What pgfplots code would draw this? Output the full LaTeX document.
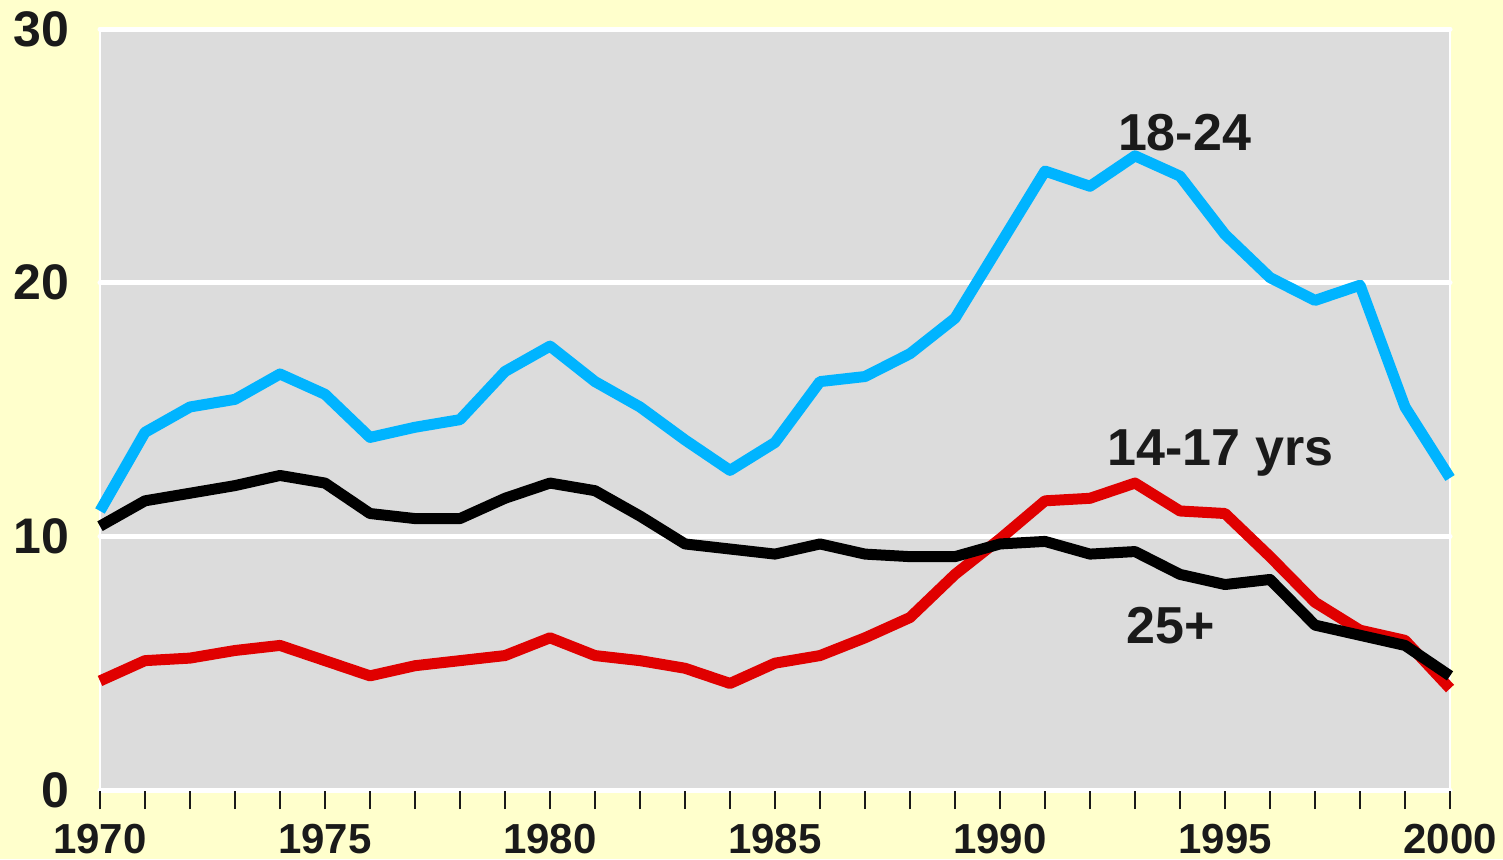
\documentclass[border=0pt]{standalone}
\usepackage{pgfplots}
\pgfplotsset{compat=1.18}
\usepackage{fontspec}
\setmainfont{Liberation Sans}
\definecolor{bgyellow}{HTML}{FFFFCC}
\definecolor{plotgray}{HTML}{DCDCDC}
\definecolor{skyblue}{HTML}{00B4FF}
\definecolor{redline}{HTML}{E00000}
\definecolor{txt}{HTML}{1A1A1A}
\begin{document}
\begin{tikzpicture}
\fill[bgyellow] (-50pt,-34.5pt) rectangle (701.5pt,395pt);
\useasboundingbox (-50pt,-34.5pt) rectangle (701.5pt,395pt);
\begin{axis}[
  at={(0,0)}, anchor=south west,
  scale only axis, width=675pt, height=380.5pt,
  xmin=1970, xmax=2000, ymin=0, ymax=30,
  axis background/.style={fill=plotgray},
  axis line style={draw=white, line width=1pt},
  xtick={1970,1975,...,2000},
  minor xtick={1970,...,2000},
  xtick pos=bottom,
  ytick={0,10,20,30},
  ymajorgrids,
  major grid style={draw=white, line width=2.5pt, line cap=round},
  tick align=outside,
  major tick length=9.5pt, minor tick length=9.5pt,
  x tick style={draw=txt, line width=1.1pt},
  y tick style={draw=none},
  font=\bfseries\fontsize{26}{30}\selectfont,
  /pgf/number format/assume math mode=true,
  /pgf/number format/1000 sep={},
  xticklabel style={anchor=north, inner sep=0pt, yshift=-7.5pt, text=txt, font=\bfseries\fontsize{21}{24}\selectfont},
  yticklabel style={anchor=east, inner sep=0pt, xshift=-5.5pt, text=txt, font=\bfseries\fontsize{25}{28}\selectfont},
  clip=false,
]
\addplot[skyblue, line width=5.5pt, line join=round] coordinates {
(1970,11.0) (1971,14.1) (1972,15.1) (1973,15.4) (1974,16.4) (1975,15.6)
(1976,13.9) (1977,14.3) (1978,14.6) (1979,16.5) (1980,17.5) (1981,16.1)
(1982,15.1) (1983,13.8) (1984,12.6) (1985,13.7) (1986,16.1) (1987,16.3)
(1988,17.2) (1989,18.6) (1990,21.5) (1991,24.4) (1992,23.8) (1993,25.0)
(1994,24.2) (1995,21.9) (1996,20.2) (1997,19.3) (1998,19.9) (1999,15.1)
(2000,12.3)};
\addplot[redline, line width=5.5pt, line join=round] coordinates {
(1970,4.3) (1971,5.1) (1972,5.2) (1973,5.5) (1974,5.7) (1975,5.1)
(1976,4.5) (1977,4.9) (1978,5.1) (1979,5.3) (1980,6.0) (1981,5.3)
(1982,5.1) (1983,4.8) (1984,4.2) (1985,5.0) (1986,5.3) (1987,6.0)
(1988,6.8) (1989,8.5) (1990,9.9) (1991,11.4) (1992,11.5) (1993,12.1)
(1994,11.0) (1995,10.9) (1996,9.2) (1997,7.4) (1998,6.3) (1999,5.9)
(2000,4.0)};
\addplot[black, line width=5.5pt, line join=round] coordinates {
(1970,10.4) (1971,11.4) (1972,11.7) (1973,12.0) (1974,12.4) (1975,12.1)
(1976,10.9) (1977,10.7) (1978,10.7) (1979,11.5) (1980,12.1) (1981,11.8)
(1982,10.8) (1983,9.7) (1984,9.5) (1985,9.3) (1986,9.7) (1987,9.3)
(1988,9.2) (1989,9.2) (1990,9.7) (1991,9.8) (1992,9.3) (1993,9.4)
(1994,8.5) (1995,8.1) (1996,8.3) (1997,6.5) (1998,6.1) (1999,5.7)
(2000,4.5)};
\node[text=txt] at (axis cs:1994.1,25.9) {18-24};
\node[text=txt] at (axis cs:1994.9,13.3) {14-17 yrs};
\node[text=txt] at (axis cs:1993.8,6.5) {25+};
\end{axis}
\end{tikzpicture}
\end{document}
